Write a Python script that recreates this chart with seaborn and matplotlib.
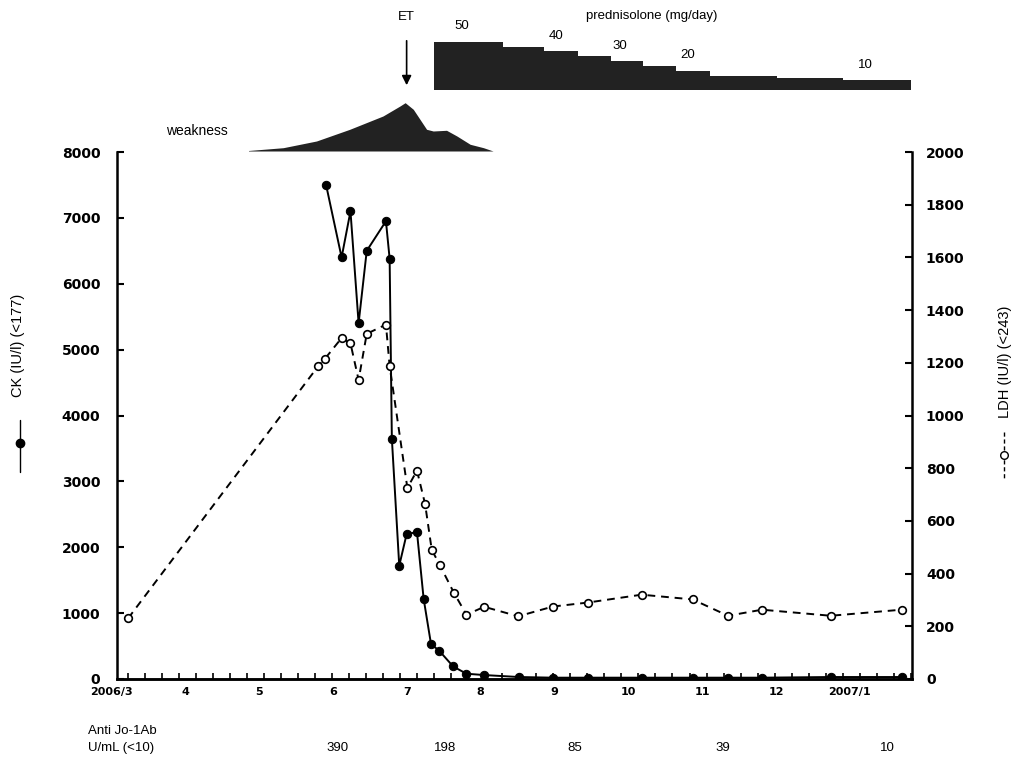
import numpy as np
import matplotlib
matplotlib.use("Agg")
import matplotlib.pyplot as plt
import matplotlib.transforms as mtransforms
from matplotlib.lines import Line2D
import seaborn as sns

# x axis in months: 4 = 2006/4 ... 13 = 2007/1
ck_month = [5.91, 6.12, 6.24, 6.35, 6.46, 6.72, 6.77, 6.80, 6.90, 7.00, 7.14, 7.23,
            7.33, 7.44, 7.63, 7.81, 8.05, 8.52, 8.98, 9.45, 10.18, 10.87, 11.35, 11.81,
            12.74, 13.70]
ck_val = [7500, 6400, 7100, 5400, 6500, 6950, 6380, 3650, 1720, 2200, 2230, 1220,
          530, 430, 190, 80, 60, 30, 20, 20, 20, 20, 20, 20, 30, 30]

ldh_month = [3.23, 5.80, 5.89, 6.12, 6.24, 6.35, 6.46, 6.72, 6.77, 7.01, 7.14, 7.25,
             7.34, 7.45, 7.64, 7.81, 8.05, 8.51, 8.98, 9.45, 10.18, 10.87, 11.35, 11.81,
             12.74, 13.70]
ldh_val = [230, 1186, 1214, 1294, 1274, 1135, 1310, 1345, 1188, 725, 791, 664,
           490, 432, 327, 244, 274, 238, 275, 290, 320, 302, 240, 263, 240, 263]

# prednisolone taper (step edges and dose of each step)
pred_edges = [7.37, 8.30, 8.86, 9.32, 9.76, 10.20, 10.64, 11.10, 12.01, 12.90, 13.82]
pred_dose = [50, 45, 40, 35, 30, 25, 20, 15, 12, 10]
pred_label_month = [7.75, 9.02, 9.89, 10.81, 13.21]
pred_label_dose = [50, 40, 30, 20, 10]

# weakness profile (arbitrary units)
weak_month = [4.86, 5.33, 5.78, 6.23, 6.68, 6.91, 6.98, 7.09, 7.27, 7.36, 7.54, 7.68,
              7.86, 8.04, 8.17]
weak_level = [0.5, 3.3, 10, 21.7, 35, 45, 48.3, 41.7, 21.7, 20, 20.7, 15, 6.7, 3.3, 0]

et_month = 7.0

jo1_month = [6.07, 7.52, 9.28, 11.28, 13.51]
jo1_val = [390, 198, 85, 39, 10]

month_ticks = [3, 4, 5, 6, 7, 8, 9, 10, 11, 12, 13]
month_labels = ["2006/3", "4", "5", "6", "7", "8", "9", "10", "11", "12", "2007/1"]

sns.set_style("ticks")
plt.rcParams['font.family'] = ['Liberation Sans', 'DejaVu Sans']
plt.rcParams['axes.edgecolor'] = 'black'
plt.rcParams['text.color'] = 'black'
plt.rcParams['xtick.color'] = 'black'
plt.rcParams['ytick.color'] = 'black'

W, H = 1013, 759
def fx(px):
    return px / W
def fy(py):
    return 1 - py / H

fig = plt.figure(figsize=(W / 100, H / 100), dpi=100)
xlim = (3.08, 13.84)

ax = fig.add_axes([fx(117), fy(679), (912 - 117) / W, (679 - 152) / H])
ax2 = ax.twinx()

sns.lineplot(x=ck_month, y=ck_val, ax=ax, sort=False, color='black', lw=1.4,
             marker='o', markersize=6, markeredgecolor='black', markerfacecolor='black')
sns.lineplot(x=ldh_month, y=ldh_val, ax=ax2, sort=False, color='black', lw=1.4,
             linestyle=(0, (4, 3)), marker='o', markersize=5.5,
             markeredgecolor='black', markerfacecolor='white', markeredgewidth=1.2)

ax.set_xlim(*xlim)
ax.set_ylim(0, 8000)
ax2.set_ylim(0, 2000)
ax.set_yticks(range(0, 8001, 1000))
ax2.set_yticks(range(0, 2001, 200))

for a in (ax, ax2):
    a.spines['top'].set_visible(False)
    for s in ('left', 'right', 'bottom'):
        a.spines[s].set_linewidth(1.8)
        a.spines[s].set_color('black')
    a.set_xlabel('')
    a.set_ylabel('')
ax.spines['right'].set_visible(False)
ax2.spines['left'].set_visible(False)

ax.tick_params(axis='y', direction='in', length=5, width=1.5, pad=12, labelsize=10,
               colors='black')
ax2.tick_params(axis='y', direction='in', length=5, width=1.5, pad=10, labelsize=10,
                colors='black')
for lab in ax.get_yticklabels() + ax2.get_yticklabels():
    lab.set_fontweight('bold')
    lab.set_family('DejaVu Sans')

ax.set_xticks(month_ticks[1:])
ax.tick_params(axis='x', which='major', length=0, labelbottom=False)
ax.set_xticks(np.arange(3.23, 13.84, 7 / 30.4), minor=True)
ax.tick_params(axis='x', which='minor', direction='in', length=4, width=1.2,
               colors='black')

trans = mtransforms.blended_transform_factory(ax.transData, ax.transAxes)
for m, lab in zip(month_ticks, month_labels):
    ax.text(m, -0.015, lab, transform=trans, ha='center', va='top', fontsize=8,
            fontweight='bold', family='DejaVu Sans', clip_on=False)

for m, v in zip(jo1_month, jo1_val):
    ax.text(m, -0.131, str(v), transform=trans, ha='center', va='center',
            fontsize=9.5, clip_on=False)
fig.text(fx(88), fy(731), "Anti Jo-1Ab", ha='left', va='center', fontsize=9.5)
fig.text(fx(88), fy(748), "U/mL (<10)", ha='left', va='center', fontsize=9.5)

# axis titles with line keys
fig.text(fx(18), fy(345), "CK (IU/l) (<177)", rotation=90, ha='center', va='center',
         fontsize=10.5)
fig.add_artist(Line2D([fx(20), fx(20)], [fy(420), fy(472)], color='black', lw=1))
fig.add_artist(Line2D([fx(20)], [fy(443)], marker='o', ms=6, color='black'))
fig.text(fx(1005), fy(362), "LDH (IU/l) (<243)", rotation=90, ha='center', va='center',
         fontsize=10.5)
fig.add_artist(Line2D([fx(1004), fx(1004)], [fy(432), fy(480)], color='black', lw=1,
                      linestyle=(0, (3, 2))))
fig.add_artist(Line2D([fx(1004)], [fy(455)], marker='o', ms=5.5, color='black',
                      markerfacecolor='white'))

# weakness profile
ax_w = fig.add_axes([fx(117), fy(151), (912 - 117) / W, 56 / H])
ax_w.fill_between(weak_month, weak_level, 0, color='#222222', lw=0)
ax_w.set_xlim(*xlim)
ax_w.set_ylim(0, 56)
ax_w.axis('off')
fig.text(fx(197), fy(131), "weakness", ha='center', va='center', fontsize=10)

# prednisolone taper
ax_p = fig.add_axes([fx(117), fy(90), (912 - 117) / W, 50 / H])
ax_p.fill_between(pred_edges, pred_dose + [pred_dose[-1]], 0, step='post',
                  color='#222222', lw=0)
ax_p.set_xlim(*xlim)
ax_p.set_ylim(0, 51.8)
ax_p.axis('off')
for m, d in zip(pred_label_month, pred_label_dose):
    ax_p.annotate(str(d), xy=(m, d), xytext=(0, 11), textcoords='offset points',
                  ha='center', va='center', fontsize=9.5, annotation_clip=False)
ptrans = mtransforms.blended_transform_factory(ax_p.transData, ax_p.transAxes)
ax_p.annotate('', xy=(et_month, 0.04), xycoords=ptrans, xytext=(et_month, 1.04),
              textcoords=ptrans, annotation_clip=False,
              arrowprops=dict(arrowstyle='-|>', color='black', lw=1.2,
                              mutation_scale=14))
ax_p.text(et_month, 1.46, "ET", transform=ptrans, ha='center', va='center',
          fontsize=9.5, clip_on=False)
fig.text(fx(652), fy(16), "prednisolone (mg/day)", ha='center', va='center',
         fontsize=9.5)

fig.savefig("out.png", dpi=100, facecolor='white')
